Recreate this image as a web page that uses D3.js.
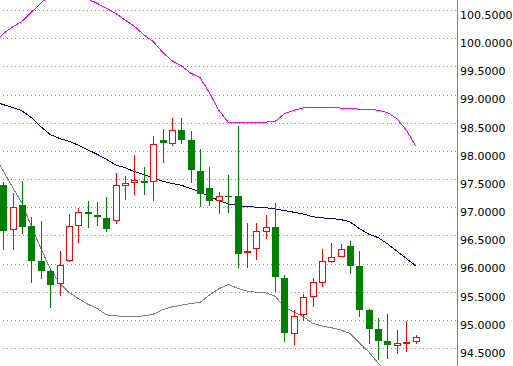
<!DOCTYPE html>
<html>
<head>
<meta charset="utf-8">
<script src="https://cdn.jsdelivr.net/npm/d3@7"></script>
<style>
  html, body { margin: 0; padding: 0; background: #fff; }
  svg { display: block; }
</style>
</head>
<body>
<svg width="513" height="366"></svg>
<script>
// candles, oldest first
const opens  = [97.39,96.61,97.04,96.67,96.05,95.87,95.65,96.07,96.68,96.91,
                96.86,96.81,96.78,97.40,97.44,97.47,97.46,98.19,98.14,98.37,
                98.19,97.64,97.34,97.13,97.20,97.20,96.20,96.28,96.58,96.65,
                95.74,94.77,95.10,95.42,95.67,96.05,96.13,96.31,95.96,95.17,
                94.83,94.62,94.56,94.58,94.62];
const highs  = [97.45,97.26,97.46,96.83,96.75,95.90,96.22,96.88,96.99,97.11,
                97.09,97.18,97.61,97.56,97.93,97.71,98.27,98.39,98.59,98.59,
                98.35,98.03,97.71,97.27,97.57,98.44,96.72,96.72,96.86,97.07,
                95.80,95.17,95.46,95.75,96.25,96.37,96.35,96.40,96.22,95.20,
                95.03,95.10,94.82,94.98,94.73];
const lows   = [96.26,96.26,96.55,95.67,95.75,95.23,95.44,96.04,96.39,96.64,
                96.69,96.58,96.72,97.15,97.24,97.24,97.12,97.81,98.10,98.14,
                97.45,97.02,97.04,96.90,96.91,95.94,95.94,96.08,96.45,95.52,
                94.62,94.57,95.00,95.25,95.60,96.03,96.13,95.84,95.07,94.58,
                94.31,94.33,94.42,94.45,94.59];
const closes = [96.58,97.00,96.65,96.05,95.87,95.62,95.97,96.66,96.91,96.87,
                96.83,96.62,97.39,97.43,97.48,97.43,98.12,98.14,98.37,98.19,
                97.66,97.24,97.11,97.20,97.18,96.17,96.23,96.57,96.64,95.76,
                94.77,95.07,95.41,95.67,96.04,96.11,96.25,95.96,95.18,94.84,
                94.63,94.56,94.58,94.60,94.70];

// indicator lines; first value belongs to the bar just left of the window
const upperBand = [99.90,100.08,100.20,100.30,100.46,100.62,100.77,100.86,100.89,100.82,
                   100.70,100.62,100.53,100.44,100.32,100.21,100.06,99.94,99.75,99.60,
                   99.51,99.38,99.30,99.03,98.72,98.51,98.51,98.51,98.51,98.51,
                   98.52,98.66,98.72,98.76,98.77,98.77,98.77,98.76,98.75,98.74,
                   98.74,98.72,98.68,98.57,98.37,98.09];
const middleLine = [98.88,98.82,98.77,98.71,98.59,98.43,98.29,98.22,98.17,98.10,
                    98.02,97.94,97.85,97.75,97.70,97.63,97.58,97.52,97.46,97.42,
                    97.39,97.33,97.27,97.19,97.12,97.06,97.03,97.01,97.00,96.99,
                    96.97,96.94,96.91,96.88,96.83,96.81,96.80,96.78,96.74,96.62,
                    96.52,96.46,96.35,96.22,96.09,95.96];
const lowerBand = [97.94,97.64,97.35,97.07,96.66,96.27,95.91,95.65,95.49,95.38,
                   95.28,95.20,95.09,95.07,95.06,95.06,95.07,95.10,95.18,95.23,
                   95.26,95.29,95.31,95.44,95.55,95.63,95.56,95.51,95.49,95.48,
                   95.42,95.23,95.14,95.06,94.94,94.89,94.86,94.82,94.76,94.59,
                   94.43,94.23,94.07,94.00,93.95,93.90];

const priceTicks = [94.5,95.0,95.5,96.0,96.5,97.0,97.5,98.0,98.5,99.0,99.5,100.0,100.5];

const W = 513, H = 366;
const axisX = 457;

function draw(){
    var svg = d3.select("svg");

    var x = d3.scaleLinear().domain([0, opens.length - 1]).range([3.3, 415.6]);
    var y = d3.scaleLinear().domain([94.5, 100.5]).range([348, 10]);

    // dotted grid
    svg.append("g").selectAll("line")
       .data(priceTicks)
       .join("line")
       .attr("x1", 0)
       .attr("x2", axisX)
       .attr("y1", d => Math.round(y(d)) + 0.5)
       .attr("y2", d => Math.round(y(d)) + 0.5)
       .style("stroke", "#8a8a8a")
       .style("stroke-dasharray", "1,3")
       .style("stroke-dashoffset", "1")
       .style("shape-rendering", "crispEdges");

    var plot = svg.append("g");

    // aliased 1px lines, like the terminal draws them
    var lineFor = function(values, color){
        var gen = d3.line()
            .x((d, i) => x(i - 1))
            .y(d => y(d));
        plot.append("path")
            .attr("d", gen(values))
            .style("fill", "none")
            .style("stroke", color)
            .style("stroke-width", 1)
            .style("shape-rendering", "crispEdges");
    };
    lineFor(upperBand, "#ff00ff");
    lineFor(middleLine, "#000080");
    lineFor(lowerBand, "#808080");

    // candles
    var idx = d3.range(opens.length);
    var candle = plot.selectAll("g.candle")
        .data(idx)
        .join("g")
        .attr("class", "candle")
        .style("shape-rendering", "crispEdges");

    candle.append("line")
        .attr("x1", i => Math.round(x(i)) + 0.5)
        .attr("x2", i => Math.round(x(i)) + 0.5)
        .attr("y1", i => Math.round(y(highs[i])))
        .attr("y2", i => Math.round(y(lows[i])) + 1)
        .style("stroke", i => closes[i] >= opens[i] ? "#ff0000" : "#008000");

    candle.each(function(i){
        var g = d3.select(this);
        var cx = Math.round(x(i));
        var top = Math.round(y(Math.max(opens[i], closes[i])));
        var bot = Math.round(y(Math.min(opens[i], closes[i])));
        if (closes[i] >= opens[i]){
            g.append("rect")
             .attr("x", cx - 2.5)
             .attr("y", top + 0.5)
             .attr("width", 6)
             .attr("height", Math.max(bot - top, 1))
             .style("fill", "#ffffff")
             .style("stroke", "#ff0000");
        } else {
            g.append("rect")
             .attr("x", cx - 3)
             .attr("y", top)
             .attr("width", 7)
             .attr("height", Math.max(bot - top, 1))
             .style("fill", "#008000");
        }
    });

    // price axis on the right
    svg.append("rect")
       .attr("x", axisX + 1)
       .attr("y", 0)
       .attr("width", W - axisX)
       .attr("height", H)
       .style("fill", "#ffffff");
    svg.append("line")
       .attr("x1", axisX + 0.5)
       .attr("x2", axisX + 0.5)
       .attr("y1", 0)
       .attr("y2", H)
       .style("stroke", "#808080")
       .style("shape-rendering", "crispEdges");

    var axis = d3.axisRight(y)
        .tickValues(priceTicks)
        .tickFormat(d3.format(".4f"))
        .tickSize(0)
        .tickPadding(3);
    var ax = svg.append("g")
        .attr("transform", "translate(" + axisX + ",0)")
        .call(axis);
    ax.select(".domain").remove();
    ax.selectAll("text")
      .attr("dy", "0.77em")
      .style("font-family", "'DejaVu Sans', sans-serif")
      .style("font-size", "11px")
      .style("fill", "#000");
}

window.addEventListener("load", draw);
</script>
</body>
</html>
